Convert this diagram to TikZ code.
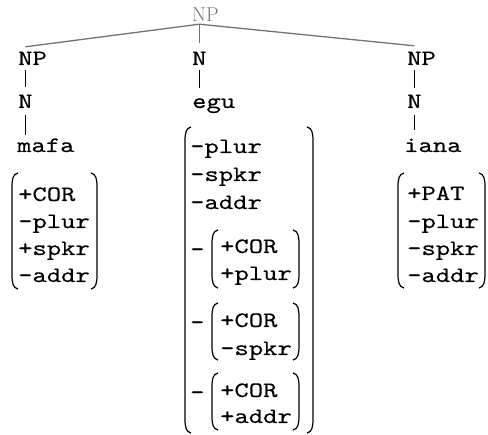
\documentclass[tikz,border=0pt]{standalone}
\usepackage{fontspec}
\newcommand\myLparen[3]{\draw[brk] (#1+6,#2) .. controls (#1+1,#2+1) and (#1,#2+6) .. (#1,#2+14) -- (#1,#3-14) .. controls (#1,#3-6) and (#1+1,#3-1) .. (#1+6,#3);}
\newcommand\myRparen[3]{\draw[brk] (#1-6,#2) .. controls (#1-1,#2+1) and (#1,#2+6) .. (#1,#2+14) -- (#1,#3-14) .. controls (#1,#3-6) and (#1-1,#3-1) .. (#1-6,#3);}
\newfontfamily\lmmonofam[Extension=.otf, FakeStretch=1.24, FakeBold=0.25]{lmmono10-regular}
\newcommand\monofam{\lmmonofam\fontsize{22}{27}\selectfont}
\begin{document}
\begin{tikzpicture}[x=1pt,y=-1pt,
  lab/.style={font=\monofam, inner sep=0pt, anchor=base west, text height=15pt, text depth=5pt},
  topcat/.style={font=\fontsize{20}{24}\selectfont, text=black!55, inner sep=0pt, anchor=base west},
  branch/.style={draw=black!55, line width=1.3pt},
  stem/.style={draw=black, line width=1.3pt},
  brk/.style={draw=black, line width=1.2pt}]
\useasboundingbox (0,0) rectangle (488,435);
% tree labels
\node[topcat] (np0) at (192,22) {NP};
\node[lab] (npL) at (18,65) {NP};
\node[lab] (nL) at (18,108) {N};
\node[lab] (mafa) at (17,152) {mafa};
\node[lab] (nC) at (192,65) {N};
\node[lab] (egu) at (192,108) {egu};
\node[lab] (npR) at (407,65) {NP};
\node[lab] (nR) at (407,108) {N};
\node[lab] (iana) at (404,152) {iana};
% branches
\coordinate (apex) at ([yshift=-2pt]np0.south -| nC);
\draw[branch] (apex) -- ([yshift=3pt]npL.north -| nL);
\draw[branch] (apex) -- ([yshift=4pt]npR.north -| nR);
\draw[branch, shorten >=7pt] (apex) -- (nC.north);
\draw[stem, shorten >=6pt] (npL.south -| nL) -- (nL.north);
\draw[stem, shorten <=2pt, shorten >=2pt] (nL.south) -- (nL.south |- mafa.north);
\draw[stem, shorten >=5pt] (nC.south) -- (egu.north -| nC);
\draw[stem, shorten >=5pt] (npR.south -| nR) -- (nR.north);
\draw[stem, shorten <=2pt, shorten >=7pt] (nR.south) -- (nR.south |- iana.north);
% left matrix
\node[lab] (l1) at (18,201) {+COR};
\node[lab] (l2) at (18,228) {-plur};
\node[lab] (l3) at (18,255) {+spkr};
\node[lab] (l4) at (18,282) {-addr};
\myLparen{12}{173}{289}
\myRparen{97}{173}{289}
% right matrix
\node[lab] (r1) at (407,200) {+PAT};
\node[lab] (r2) at (407,228) {-plur};
\node[lab] (r3) at (407,255) {-spkr};
\node[lab] (r4) at (407,282) {-addr};
\myLparen{398}{173}{288}
\myRparen{485}{173}{288}
% centre matrix
\node[lab] (c1) at (190,153) {-plur};
\node[lab] (c2) at (190,181) {-spkr};
\node[lab] (c3) at (190,209) {-addr};
\node[lab] (m1) at (190,256) {-};
\node[lab] (a1) at (220,253) {+COR};
\node[lab] (a2) at (220,280) {+plur};
\node[lab] (m2) at (190,329) {-};
\node[lab] (b1) at (220,327) {+COR};
\node[lab] (b2) at (220,355) {-spkr};
\node[lab] (m3) at (190,399) {-};
\node[lab] (d1) at (220,397) {+COR};
\node[lab] (d2) at (220,423) {+addr};
\myLparen{185}{127}{433}
\myRparen{313}{127}{433}
\myLparen{212}{230}{288}
\myRparen{299}{230}{288}
\myLparen{212}{303}{360}
\myRparen{299}{303}{360}
\myLparen{212}{373}{430}
\myRparen{299}{373}{430}
\end{tikzpicture}
\end{document}
